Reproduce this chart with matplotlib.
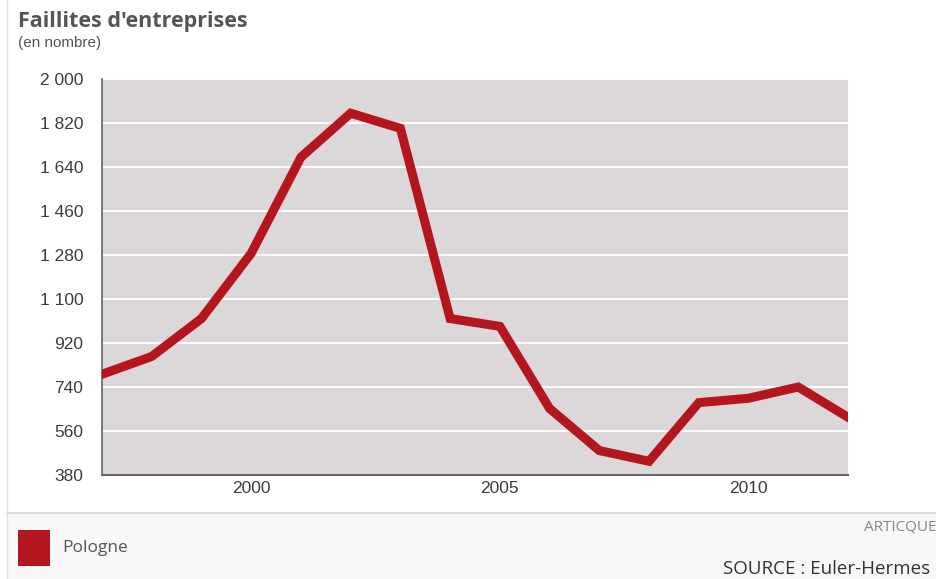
import matplotlib
matplotlib.use('Agg')
import matplotlib.pyplot as plt
from matplotlib.patches import Rectangle
from matplotlib.lines import Line2D

years = [1997, 1998, 1999, 2000, 2001, 2002, 2003, 2004, 2005, 2006, 2007, 2008, 2009, 2010, 2011, 2012]
faillites = [792, 865, 1020, 1287, 1680, 1860, 1798, 1020, 988, 652, 480, 436, 676, 694, 740, 616]
y_ticks = [380, 560, 740, 920, 1100, 1280, 1460, 1640, 1820, 2000]
x_ticks = [2000, 2005, 2010]

RED = '#b3161d'
PANEL = '#dcd8d9'
TXT = '#3c3c3c'

plt.rcParams['font.family'] = ['Open Sans', 'DejaVu Sans']

fig = plt.figure(figsize=(9.37, 5.79), dpi=100)
fig.patch.set_facecolor('white')

# footer band
fig.add_artist(Rectangle((0.008, 0), 0.992, (579 - 513) / 579, transform=fig.transFigure,
                         facecolor='#f8f8f8', edgecolor='none', zorder=0))
fig.add_artist(Line2D([0.008, 1], [(579 - 513) / 579] * 2, transform=fig.transFigure,
                      color='#d4d4d4', lw=1.2))
fig.add_artist(Line2D([0.008, 0.008], [0, 1], transform=fig.transFigure,
                      color='#e2e2e2', lw=1.0))

ax = fig.add_axes([102 / 937, (579 - 475) / 579, (848 - 102) / 937, (475 - 79) / 579])
ax.set_facecolor(PANEL)
ax.plot(years, faillites, color=RED, lw=6.5, solid_joinstyle='miter', zorder=3)

ax.set_xlim(1997, 2012)
ax.set_ylim(380, 2000)
ax.set_yticks(y_ticks)
ax.set_yticklabels([f'{v:,}'.replace(',', ' ') for v in y_ticks])
ax.set_xticks(x_ticks)
ax.grid(axis='y', color='white', lw=1.3)
ax.set_axisbelow(True)
for s in ['top', 'right']:
    ax.spines[s].set_visible(False)
ax.spines['left'].set_color('#666666')
ax.spines['bottom'].set_color('#666666')
ax.spines['left'].set_linewidth(1.2)
ax.spines['bottom'].set_linewidth(1.5)
ax.tick_params(length=0, labelsize=12.5, colors=TXT, pad=13.5)
ax.tick_params(axis='x', pad=4)
for lbl in ax.get_xticklabels() + ax.get_yticklabels():
    lbl.set_family(['Liberation Sans', 'DejaVu Sans'])

fig.text(18 / 937, 1 - 22 / 579, "Faillites d'entreprises", fontsize=15.5, fontweight='bold',
         color='#555555', va='center', ha='left')
fig.text(18 / 937, 1 - 43 / 579, '(en nombre)', fontsize=11, color='#555555',
         va='center', ha='left', family=['Liberation Sans', 'DejaVu Sans'])

# legend
fig.add_artist(Rectangle((18 / 937, 1 - 566 / 579), 32 / 937, 36 / 579, transform=fig.transFigure,
                         facecolor=RED, edgecolor='none'))
fig.text(62 / 937, 1 - 548 / 579, 'Pologne', fontsize=12.5, color='#555555', va='center', ha='left')

fig.text(930 / 937, 1 - 569 / 579, 'SOURCE : Euler-Hermes', fontsize=13.5, color='#333333',
         va='center', ha='right')
fig.text(937 / 937, 1 - 527 / 579, 'ARTICQUE', fontsize=11, color='#888888',
         va='center', ha='right')

fig.savefig('out.png', dpi=100)
